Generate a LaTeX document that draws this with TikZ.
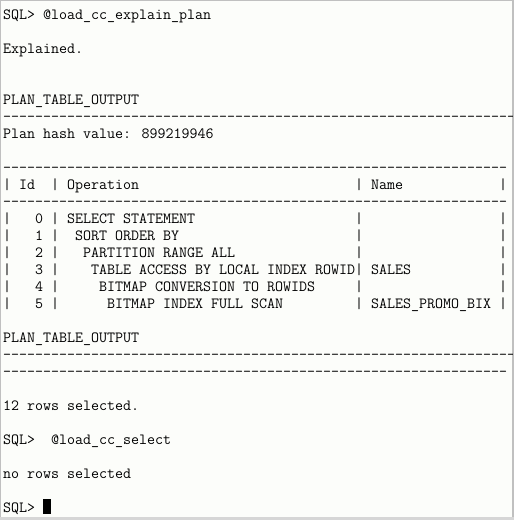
\documentclass[tikz,border=0pt]{standalone}
\usepackage{fontspec}
\ExplSyntaxOn
\cs_new:Npn \myrep #1#2 { \prg_replicate:nn {#1} {#2} }
\ExplSyntaxOff
\newcommand\spc[1]{\myrep{#1}{~}}
\newcommand\dsh[1]{\myrep{#1}{-{}}}
\definecolor{termbg}{RGB}{252,253,250}
\definecolor{frameg}{RGB}{192,192,192}
\definecolor{frameb}{RGB}{214,214,214}
\tikzset{
  ln/.style={anchor=base west, inner sep=0pt, outer sep=0pt, text=black,
    font=\ttfamily\fontsize{15.54}{17}\selectfont},
}
\begin{document}
\begin{tikzpicture}[x=1pt,y=-1pt]
\useasboundingbox (0,0) rectangle (514,520);
\fill[termbg] (0,0) rectangle (514,520);
\fill[frameg] (0,0) rectangle (514,1);
\fill[frameg] (0,0) rectangle (1.2,520);
\fill[frameg] (512,0) rectangle (514,520);
\fill[frameb] (0,516.5) rectangle (514,520);
\begin{scope}
\clip (1.2,1) rectangle (512,516.5);
\node[ln] (l0)  at (3,19+17*0)  {SQL> @load\_cc\_explain\_plan};
\node[ln] (l2)  at (3,19+17*2)  {Explained.};
\node[ln] (l5)  at (3,19+17*5)  {PLAN\_TABLE\_OUTPUT};
\node[ln] (l6)  at (3,19+17*6)  {\dsh{70}};
\node[ln] (l7)  at (3,19+17*7)  {Plan hash value: 899219946};
\node[ln] (l9)  at (3,19+17*9)  {\dsh{63}};
\node[ln] (l10) at (3,19+17*10) {|\spc{1}Id\spc{2}|\spc{1}Operation\spc{27}|\spc{1}Name\spc{12}|};
\node[ln] (l11) at (3,19+17*11) {\dsh{63}};
\node[ln] (l12) at (3,19+17*12) {|\spc{3}0\spc{1}|\spc{1}SELECT STATEMENT\spc{20}|\spc{17}|};
\node[ln] (l13) at (3,19+17*13) {|\spc{3}1\spc{1}|\spc{2}SORT ORDER BY\spc{22}|\spc{17}|};
\node[ln] (l14) at (3,19+17*14) {|\spc{3}2\spc{1}|\spc{3}PARTITION RANGE ALL\spc{15}|\spc{17}|};
\node[ln] (l15) at (3,19+17*15) {|\spc{3}3\spc{1}|\spc{4}TABLE ACCESS BY LOCAL INDEX ROWID|\spc{1}SALES\spc{11}|};
\node[ln] (l16) at (3,19+17*16) {|\spc{3}4\spc{1}|\spc{5}BITMAP CONVERSION TO ROWIDS\spc{5}|\spc{17}|};
\node[ln] (l17) at (3,19+17*17) {|\spc{3}5\spc{1}|\spc{6}BITMAP INDEX FULL SCAN\spc{9}|\spc{1}SALES\_PROMO\_BIX\spc{1}|};
\node[ln] (l19) at (3,19+17*19) {PLAN\_TABLE\_OUTPUT};
\node[ln] (l20) at (3,19+17*20) {\dsh{70}};
\node[ln] (l21) at (3,19+17*21) {\dsh{63}};
\node[ln] (l23) at (3,19+17*23) {12 rows selected.};
\node[ln] (l25) at (3,19+17*25) {SQL>\spc{2}@load\_cc\_select};
\node[ln] (l27) at (3,19+17*27) {no rows selected};
\node[ln] (l29) at (3,19+17*29) {SQL>};
\node[fill=black, inner sep=0pt, outer sep=0pt, minimum width=8pt, minimum height=15pt, anchor=north west] (cursor) at (43,499) {};
\end{scope}
\end{tikzpicture}
\end{document}
